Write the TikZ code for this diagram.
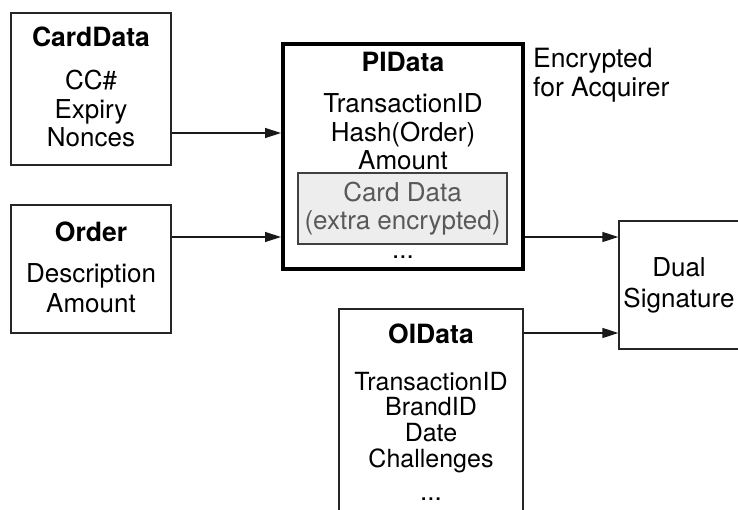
\documentclass[tikz,border=0pt]{standalone}
\usepackage{fontspec}
\setmainfont{TeX Gyre Heros}
\usetikzlibrary{arrows.meta}

% stacked, centred lines whose baseline is the first line's
\newcommand{\stackc}[1]{\begin{tabular}[t]{@{}c@{}}#1\end{tabular}}
\newcommand{\stackl}[1]{\begin{tabular}[t]{@{}l@{}}#1\end{tabular}}

\begin{document}
\begin{tikzpicture}[x=1bp,y=-1bp,
  box/.style={draw=black!85, line width=1.3bp, rectangle, inner sep=0pt},
  bigbox/.style={draw=black, line width=4bp, rectangle, inner sep=0pt},
  innerbox/.style={draw=black!75, line width=1.2bp, fill=black!7, rectangle, inner sep=0pt},
  title/.style={inner sep=0pt, anchor=base, font=\fontsize{26.5bp}{28.5bp}\selectfont\bfseries},
  body/.style={inner sep=0pt, anchor=base, font=\fontsize{26bp}{28.5bp}\selectfont},
  arr/.style={draw=black!90, line width=1.3bp, -{Triangle[length=16bp,width=10bp]}}
]
\useasboundingbox (0,0) rectangle (738,510);
\clip (0,0) rectangle (738,510);

% boxes
\node[box, minimum width=160bp, minimum height=152bp] (card) at (91,89) {};
\node[box, minimum width=160bp, minimum height=128bp] (order) at (91,269) {};
\node[bigbox, minimum width=240bp, minimum height=224bp] (pi) at (403,156.5) {};
\node[innerbox, minimum width=209bp, minimum height=71bp] (inner) at (402.5,208.5) {};
\node[box, minimum width=121bp, minimum height=128bp] (dual) at (679.5,285) {};
\node[box, minimum width=184bp, minimum height=240bp] (oi) at (431,429) {};

% CardData
\node[title] (cardT) at (91,47) {CardData};
\node[body] (cardB) at (91,90) {\stackc{CC\#\\Expiry\\Nonces}};

% Order
\node[title] (orderT) at (91,242) {Order};
\node[body] (orderB) at (91,283) {\fontsize{26bp}{29bp}\selectfont\stackc{Description\\Amount}};

% PIData
\node[title] (piT) at (403,71.5) {PIData};
\node[body] (piB) at (403,113) {\stackc{TransactionID\\Hash(Order)\\Amount}};
\node[body, text=black!65] (innerT) at (402.5,202) {\fontsize{26bp}{28bp}\selectfont\stackc{Card Data\\(extra encrypted)}};
\node[body] (piDots) at (403,259) {...};

% label beside PIData
\node[body, anchor=base west] (enc) at (533,68)
  {\fontsize{26.5bp}{29bp}\selectfont\stackl{Encrypted\\for Acquirer}};

% Dual Signature
\node[body] (dualT) at (679,277) {\fontsize{26bp}{30bp}\selectfont\stackc{Dual\\Signature}};

% OIData
\node[title] (oiT) at (431,343) {OIData};
\node[body] (oiB) at (431,390) {\fontsize{25bp}{25bp}\selectfont\stackc{TransactionID\\BrandID\\Date\\Challenges}};
\node[body] (oiDots) at (431,500) {...};

% connectors
\draw[arr] (card.east |- 0,133) -- (pi.west |- 0,133);
\draw[arr] (order.east |- 0,237) -- (pi.west |- 0,237);
\draw[arr] (pi.east |- 0,237) -- (dual.west |- 0,237);
\draw[arr] (oi.east |- 0,333) -- (dual.west |- 0,333);
\end{tikzpicture}
\end{document}
